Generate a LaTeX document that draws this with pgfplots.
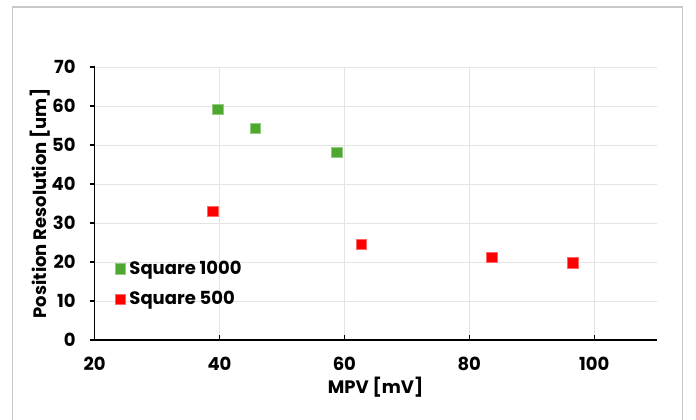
\documentclass[border=0pt]{standalone}
\usepackage{fontspec}
\setmainfont{Poppins}
\usepackage{pgfplots}
\pgfplotsset{compat=1.18}
\definecolor{sqgreen}{HTML}{4EA72E}
\definecolor{sqred}{HTML}{FF0000}
\definecolor{gridgray}{HTML}{E4E4E4}
\definecolor{framegray}{HTML}{C8C8C8}

\begin{document}
\begin{tikzpicture}
\fill[white] (0pt,0pt) rectangle (348pt,209.5pt);
% chart area frame (open at the bottom)
\draw[framegray,line width=0.7pt] (6.25pt,-5pt) -- (6.25pt,206pt) -- (341.25pt,206pt) -- (341.25pt,-5pt);
\begin{axis}[
    at={(47.3pt,39.5pt)}, anchor=south west,
    scale only axis,
    width=281pt, height=136.5pt,
    xmin=20, xmax=110, ymin=0, ymax=70,
    xtick={20,40,...,100}, ytick={0,10,...,70},
    axis x line*=bottom, axis y line*=left,
    axis line style={black, line width=0.7pt, -},
    grid=major,
    major grid style={gridgray, line width=0.5pt},
    tick style={black, line width=0.6pt},
    major tick length=2.5pt,
    xtick align=inside, ytick align=outside,
    /pgf/number format/assume math mode=true,
    tick label style={font=\bfseries\fontsize{9}{10}\selectfont},
    yticklabel style={xshift=-3.5pt},
    xticklabel style={yshift=-5pt},
    xlabel={MPV [mV]},
    ylabel={Position Resolution [um]},
    label style={font=\bfseries\fontsize{9}{10}\selectfont},
    xlabel style={yshift=3.5pt},
    ylabel style={yshift=-6.2pt},
    legend style={at={(0.025,0.205)}, anchor=west, draw=none, fill=none,
        font=\bfseries\fontsize{9}{10}\selectfont, row sep=3pt,
        legend cell align=left},
    legend image code/.code={\draw[#1] (0.5pt,0pt) -- plot coordinates {(0.5pt,0pt)};},
    clip=false,
]
\addplot[only marks, mark=square*, mark size=2.6pt, color=sqgreen,
    mark options={draw=sqgreen!60!white, line width=0.3pt, fill=sqgreen}]
    coordinates {(39.7,59.2) (45.7,54.3) (58.8,48.1)};
\addlegendentry{Square 1000}
\addplot[only marks, mark=square*, mark size=2.6pt, color=sqred,
    mark options={draw=sqred!60!white, line width=0.3pt, fill=sqred}]
    coordinates {(38.9,33.0) (62.7,24.5) (83.6,21.2) (96.6,19.8)};
\addlegendentry{Square 500}
\end{axis}
\pgfresetboundingbox
\path[use as bounding box] (0pt,0pt) rectangle (348pt,209.5pt);
\end{tikzpicture}
\end{document}
